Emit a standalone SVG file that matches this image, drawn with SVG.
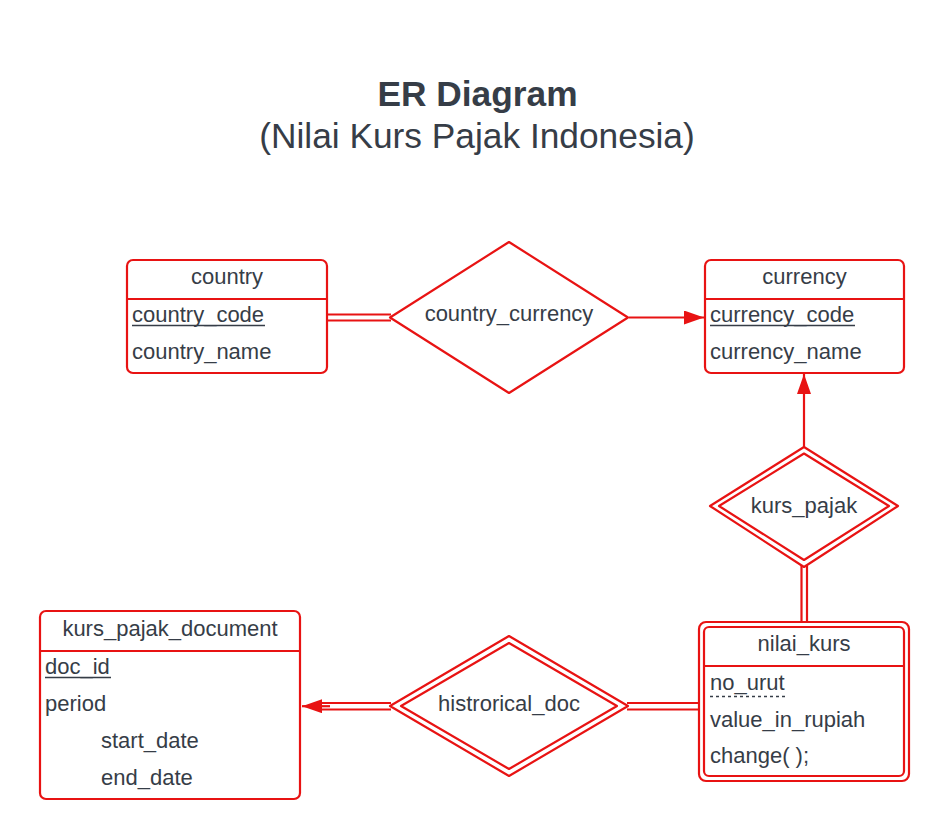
<svg xmlns="http://www.w3.org/2000/svg" width="949" height="839" viewBox="0 0 949 839">
<defs>
<style>
.t{font-family:"Liberation Sans",Arial,sans-serif;fill:#363d47;font-size:22px}
.c{text-anchor:middle}
.box{fill:#fff;stroke:#e81313;stroke-width:2.2}
.ln{stroke:#e81313;stroke-width:2.2;fill:none}
.dia{fill:#fff;stroke:#e81313;stroke-width:2.2;stroke-linejoin:round}
.ul{stroke:#363d47;stroke-width:1.3}
</style>
<marker id="arr" markerWidth="20" markerHeight="14" refX="20" refY="7" orient="auto" markerUnits="userSpaceOnUse">
<path d="M0,0 L20,7 L0,14 Z" fill="#e81313"/>
</marker>
</defs>
<rect width="949" height="839" fill="#fff"/>
<g id="title">
<text class="t c" x="477.5" y="106" style="font-size:35.3px;font-weight:bold">ER Diagram</text>
<text class="t c" x="477" y="148" style="font-size:35.3px">(Nilai Kurs Pajak Indonesia)</text>
</g>
<g id="connectors">
<line class="ln" x1="327" y1="314.5" x2="391" y2="314.5"/>
<line class="ln" x1="327" y1="320.5" x2="391" y2="320.5"/>
<line class="ln" x1="629" y1="317.5" x2="704" y2="317.5" marker-end="url(#arr)"/>
<line class="ln" x1="804" y1="447" x2="804" y2="374" marker-end="url(#arr)"/>
<line class="ln" x1="801.5" y1="566" x2="801.5" y2="622"/>
<line class="ln" x1="807" y1="566" x2="807" y2="622"/>
<line class="ln" x1="627" y1="703" x2="699" y2="703"/>
<line class="ln" x1="627" y1="709.5" x2="699" y2="709.5"/>
<line class="ln" x1="322" y1="703" x2="391" y2="703"/>
<line class="ln" x1="322" y1="709.5" x2="391" y2="709.5"/>
<line class="ln" x1="330" y1="706.2" x2="302" y2="706.2" stroke-width="0" marker-end="url(#arr)"/>
</g>
<g id="country">
<rect class="box" x="127" y="260" width="200" height="113" rx="6"/>
<line class="ln" x1="127" y1="299" x2="327" y2="299"/>
<text class="t c" x="227" y="284">country</text>
<text class="t" x="132" y="322">country_code</text>
<line class="ul" x1="132" y1="325.5" x2="265" y2="325.5"/>
<text class="t" x="132" y="359">country_name</text>
</g>
<g id="currency">
<rect class="box" x="705" y="260" width="199" height="113" rx="6"/>
<line class="ln" x1="705" y1="299" x2="904" y2="299"/>
<text class="t c" x="804.5" y="284">currency</text>
<text class="t" x="710" y="322">currency_code</text>
<line class="ul" x1="710" y1="325.5" x2="855" y2="325.5"/>
<text class="t" x="710" y="359">currency_name</text>
</g>
<g id="country_currency">
<polygon class="dia" points="390,317.5 509,242 628,317.5 509,393"/>
<text class="t c" x="509" y="321">country_currency</text>
</g>
<g id="kurs_pajak">
<polygon class="dia" points="710,506 804,447 898,506 804,567"/>
<polygon class="dia" points="719,506 804,453.5 889,506 804,560"/>
<text class="t c" x="804" y="513">kurs_pajak</text>
</g>
<g id="nilai_kurs">
<rect class="box" x="699" y="622" width="210" height="159" rx="7"/>
<rect class="box" x="704" y="627" width="200" height="149" rx="5"/>
<line class="ln" x1="704" y1="666" x2="904" y2="666"/>
<text class="t c" x="804" y="651">nilai_kurs</text>
<text class="t" x="710" y="690">no_urut</text>
<line class="ul" x1="710" y1="696.5" x2="785" y2="696.5" stroke-dasharray="3,3"/>
<text class="t" x="710" y="727">value_in_rupiah</text>
<text class="t" x="710" y="763">change( );</text>
</g>
<g id="histrorical_doc">
<polygon class="dia" points="390,706 509,636 628,706 509,776"/>
<polygon class="dia" points="401,706 509,643 617,706 509,769"/>
<text class="t c" x="509" y="711">histrorical_doc</text>
</g>
<g id="kurs_pajak_document">
<rect class="box" x="40" y="611" width="260" height="188" rx="6"/>
<line class="ln" x1="40" y1="651" x2="300" y2="651"/>
<text class="t c" x="170" y="636">kurs_pajak_document</text>
<text class="t" x="45" y="674">doc_id</text>
<line class="ul" x1="45" y1="677.5" x2="111" y2="677.5"/>
<text class="t" x="45" y="711">period</text>
<text class="t" x="101" y="748">start_date</text>
<text class="t" x="101" y="785">end_date</text>
</g>
</svg>
